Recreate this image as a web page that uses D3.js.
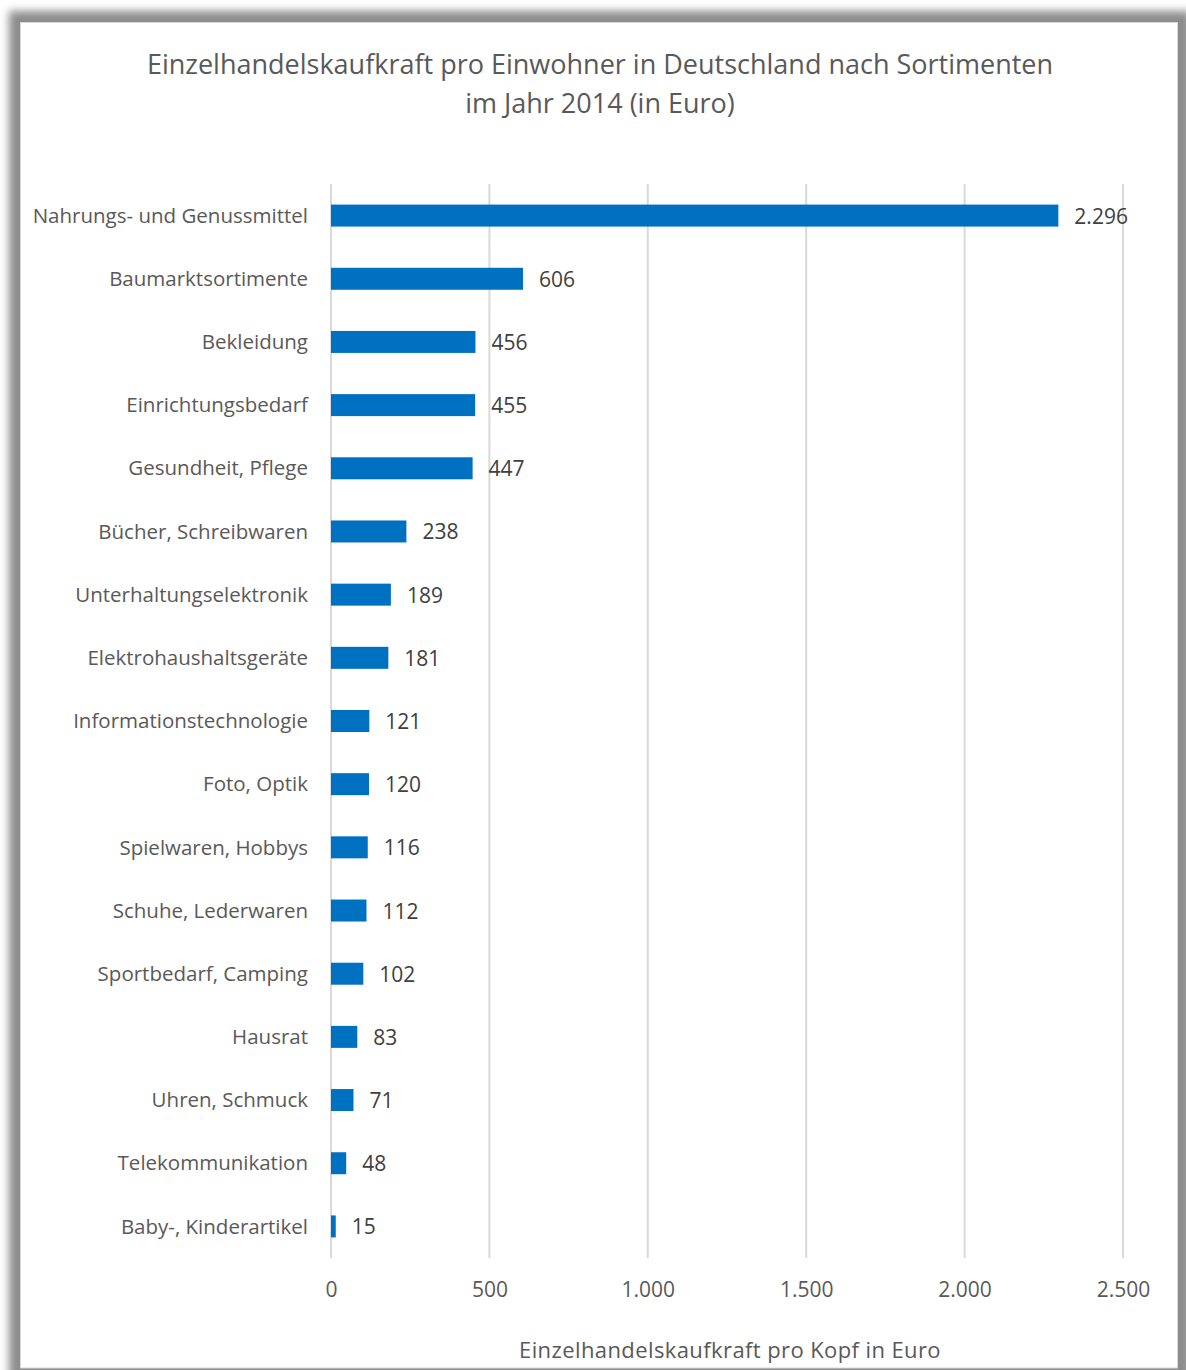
<!DOCTYPE html>
<html lang="de">
<head>
<meta charset="utf-8">
<title>Einzelhandelskaufkraft pro Einwohner 2014</title>
<script src="https://cdn.jsdelivr.net/npm/d3@7"></script>
<style>
  html, body { margin: 0; padding: 0; background: #ffffff; }
  svg { display: block; }
  text { font-family: "Open Sans", "Noto Sans", sans-serif; }
</style>
</head>
<body>
<svg id="chart" width="1186" height="1370"></svg>
<script>
// Sortimente (von oben nach unten) und Kaufkraft pro Kopf in Euro
const categories = [
  "Nahrungs- und Genussmittel",
  "Baumarktsortimente",
  "Bekleidung",
  "Einrichtungsbedarf",
  "Gesundheit, Pflege",
  "Bücher, Schreibwaren",
  "Unterhaltungselektronik",
  "Elektrohaushaltsgeräte",
  "Informationstechnologie",
  "Foto, Optik",
  "Spielwaren, Hobbys",
  "Schuhe, Lederwaren",
  "Sportbedarf, Camping",
  "Hausrat",
  "Uhren, Schmuck",
  "Telekommunikation",
  "Baby-, Kinderartikel"
];
const values = [2296, 606, 456, 455, 447, 238, 189, 181, 121, 120, 116, 112, 102, 83, 71, 48, 15];
const xTicks = [0, 500, 1000, 1500, 2000, 2500];
const titleLines = [
  "Einzelhandelskaufkraft pro Einwohner in Deutschland nach Sortimenten",
  "im Jahr 2014 (in Euro)"
];
const axisTitle = "Einzelhandelskaufkraft pro Kopf in Euro";

const de = d3.formatLocale({ decimal: ",", thousands: ".", grouping: [3], currency: ["", " €"] });
const fmt = de.format(",d");

const svg = d3.select("#chart");
const textColor = "#595959";

// Rahmen mit weichem Schatten
const defs = svg.append("defs");
const blur = defs.append("filter").attr("id", "soft")
  .attr("x", "-5%").attr("y", "-5%").attr("width", "110%").attr("height", "110%");
blur.append("feGaussianBlur").attr("stdDeviation", 4);

svg.append("rect")
  .attr("x", 9).attr("y", 11).attr("width", 1182).attr("height", 1370)
  .attr("fill", "#8c8c8c").attr("filter", "url(#soft)");
svg.append("rect")
  .attr("x", 20.5).attr("y", 22.5).attr("width", 1157).attr("height", 1345.5)
  .attr("fill", "#ffffff").attr("stroke", "#d9d9d9").attr("stroke-width", 1);

// Titel
svg.append("text")
  .attr("x", 600).attr("y", 74)
  .attr("text-anchor", "middle")
  .attr("fill", textColor)
  .style("font-size", "27px")
  .selectAll("tspan").data(titleLines).join("tspan")
  .attr("x", 600).attr("dy", (d, i) => i === 0 ? 0 : 39)
  .text(d => d);

// Zeichenfläche
const plot = { left: 331, right: 1123, top: 184, bottom: 1258 };

const x = d3.scaleLinear().domain([0, 2500]).range([plot.left, plot.right]);
const y = d3.scaleBand().domain(categories).range([plot.top, plot.bottom]).paddingInner(0.652).paddingOuter(0.326);

// Gitterlinien
svg.append("g")
  .selectAll("line").data(xTicks).join("line")
  .attr("x1", d => x(d)).attr("x2", d => x(d))
  .attr("y1", plot.top).attr("y2", plot.bottom)
  .attr("stroke", "#d9d9d9").attr("stroke-width", 2);

// x-Achse (nur Beschriftungen)
const xAxis = svg.append("g")
  .attr("transform", `translate(0,${plot.bottom})`)
  .call(d3.axisBottom(x).tickValues(xTicks).tickFormat(fmt).tickSize(0).tickPadding(24));
xAxis.select(".domain").remove();
xAxis.selectAll("text")
  .attr("fill", textColor)
  .style("font-size", "21px")
  .style("font-family", "'Open Sans', sans-serif");

// y-Achse (Kategorien)
const yAxis = svg.append("g")
  .attr("transform", `translate(${plot.left},0)`)
  .call(d3.axisLeft(y).tickSize(0).tickPadding(23));
yAxis.select(".domain").remove();
yAxis.selectAll("text")
  .attr("fill", textColor)
  .attr("dy", "0.35em")
  .style("font-size", "20.5px")
  .style("font-family", "'Open Sans', sans-serif");

// Balken
svg.append("g")
  .selectAll("rect").data(values).join("rect")
  .attr("x", x(0))
  .attr("y", (d, i) => y(categories[i]))
  .attr("width", d => x(d) - x(0))
  .attr("height", y.bandwidth())
  .attr("fill", "#0070c0");

// Wertbeschriftungen
svg.append("g")
  .selectAll("text").data(values).join("text")
  .attr("x", d => x(d) + 16)
  .attr("y", (d, i) => y(categories[i]) + y.bandwidth() / 2)
  .attr("dy", "0.38em")
  .attr("fill", "#404040")
  .style("font-size", "21px")
  .text(d => fmt(d));

// Achsentitel
svg.append("text")
  .attr("x", (plot.left + plot.right) / 2 + 3).attr("y", 1358)
  .attr("text-anchor", "middle")
  .attr("fill", textColor)
  .style("font-size", "22px")
  .style("letter-spacing", "0.4px")
  .text(axisTitle);
</script>
</body>
</html>
